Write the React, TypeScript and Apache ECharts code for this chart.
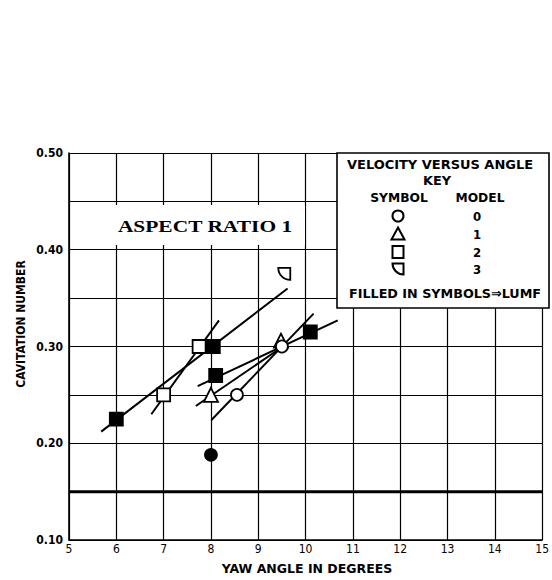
import React, { useEffect, useRef } from "react";
import * as echarts from "echarts";

// ---- data ----
const xTicks = [5, 6, 7, 8, 9, 10, 11, 12, 13, 14, 15];
const yTickLabels = ["0.10", "0.20", "0.30", "0.40", "0.50"];

// open symbols = plain models, filled symbols = LUMF
const model0Open: number[][] = [[8.55, 0.25], [9.5, 0.30]];
const model0Filled: number[][] = [[8.0, 0.188]];
const model1Open: number[][] = [[8.0, 0.25], [9.48, 0.306]];
const model2Open: number[][] = [[7.0, 0.25], [7.75, 0.30]];
const model2Filled: number[][] = [[6.0, 0.225], [8.05, 0.30], [8.1, 0.27], [10.1, 0.315]];
const model3Open: number[][] = [[9.55, 0.375]];

// fitted lines (end points)
const fitLineA: number[][] = [[5.68, 0.212], [9.62, 0.36]];
const fitLineB: number[][] = [[6.74, 0.23], [8.17, 0.327]];
const fitLineC: number[][] = [[7.72, 0.259], [10.68, 0.327]];
const fitLineD: number[][] = [[7.68, 0.2385], [9.52, 0.30]];
const fitLineE: number[][] = [[8.01, 0.224], [10.17, 0.334]];
const referenceLevel = 0.15;

const legendModels = ["0", "1", "2", "3"];

const COND = "'DejaVu Sans Condensed', 'Liberation Sans Narrow', 'DejaVu Sans', sans-serif";
const D_PATH = "path://M0,0 L10,0 L10,10 A10,10 0 0 1 0,0 Z";

export default function App() {
  const ref = useRef<HTMLDivElement>(null);
  useEffect(() => {
    if (!ref.current) return;
    const chart = echarts.init(ref.current, undefined, { renderer: "svg" });

    const lineSeries = (data: number[][], width = 2) => ({
      type: "line",
      data,
      symbol: "none",
      silent: true,
      z: 2,
      lineStyle: { color: "#000", width },
    });
    const scatter = (data: number[][], symbol: string, size: number, filled: boolean) => ({
      type: "scatter",
      data,
      symbol,
      symbolSize: size,
      z: 3,
      itemStyle: {
        color: filled ? "#000" : "#fff",
        borderColor: "#000",
        borderWidth: 1.8,
        opacity: 1,
      },
    });

    const txt = (t: string, x: number, y: number, size: number, sx: number, z = 52) => ({
      type: "text",
      z,
      x,
      y,
      scaleX: sx,
      style: {
        text: t,
        fill: "#000",
        font: `bold ${size}px ${COND}`,
        textAlign: "center",
        textVerticalAlign: "middle",
      },
    });

    const lx = 398; // legend symbol x
    const rowsY = [216, 234, 252, 269];

    chart.setOption({
      animation: false,
      backgroundColor: "#fff",
      grid: { left: 69, right: 1, top: 153, bottom: 40 },
      xAxis: {
        type: "value",
        min: xTicks[0],
        max: xTicks[xTicks.length - 1],
        interval: 1,
        axisLine: { show: true, lineStyle: { color: "#000", width: 1.6 } },
        axisTick: { show: false },
        splitLine: { show: true, lineStyle: { color: "#000", width: 1.2 } },
        axisLabel: {
          color: "#000",
          fontFamily: COND,
          fontSize: 12,
          margin: 3,
          showMaxLabel: true,
          formatter: (v: number) => String(Math.round(v)),
        },
      },
      yAxis: {
        type: "value",
        min: 0.1,
        max: 0.5,
        interval: 0.05,
        axisLine: { show: true, lineStyle: { color: "#000", width: 1.6 } },
        axisTick: { show: false },
        splitLine: { show: true, lineStyle: { color: "#000", width: 1.2 } },
        axisLabel: {
          color: "#000",
          fontFamily: COND,
          fontWeight: "bold",
          fontSize: 12,
          margin: 6,
          formatter: (v: number) => {
            const s = v.toFixed(2);
            return yTickLabels.includes(s) ? s : "";
          },
        },
      },
      series: [
        lineSeries([[xTicks[0], referenceLevel], [xTicks[xTicks.length - 1], referenceLevel]], 3),
        lineSeries(fitLineA),
        lineSeries(fitLineB),
        lineSeries(fitLineC),
        lineSeries(fitLineD),
        lineSeries(fitLineE),
        scatter(model1Open, "triangle", 14, false),
        scatter(model0Open, "circle", 12, false),
        scatter(model0Filled, "circle", 12, true),
        scatter(model2Open, "rect", 13, false),
        scatter(model2Filled, "rect", 13, true),
        scatter(model3Open, D_PATH, 12, false),
      ],
      graphic: [
        // blank band behind the "ASPECT RATIO 1" label
        {
          type: "rect",
          z: 50,
          shape: { x: 71, y: 205, width: 234, height: 40 },
          style: { fill: "#fff" },
        },
        {
          type: "text",
          z: 51,
          x: 205,
          y: 227,
          scaleX: 1.34,
          style: {
            text: "ASPECT RATIO 1",
            fill: "#000",
            font: "bold 16px 'Liberation Serif', 'DejaVu Serif', serif",
            textAlign: "center",
            textVerticalAlign: "middle",
          },
        },
        // key box
        {
          type: "rect",
          z: 50,
          shape: { x: 337, y: 153, width: 212, height: 155 },
          style: { fill: "#fff", stroke: "#000", lineWidth: 1.6 },
        },
        txt("VELOCITY VERSUS ANGLE", 440, 164, 13, 1.11),
        txt("KEY", 437, 180, 13, 1.1),
        txt("SYMBOL", 399, 198, 13, 1.05),
        txt("MODEL", 480, 198, 13, 1.05),
        txt("FILLED IN SYMBOLS⇒LUMF", 445, 293, 13, 1.09),
        ...legendModels.map((m, i) => txt(m, 477, rowsY[i], 13, 1)),
        {
          type: "circle",
          z: 52,
          shape: { cx: lx, cy: rowsY[0], r: 5.5 },
          style: { fill: "#fff", stroke: "#000", lineWidth: 2 },
        },
        {
          type: "polygon",
          z: 52,
          shape: { points: [[lx, rowsY[1] - 6.5], [lx + 6.5, rowsY[1] + 5.5], [lx - 6.5, rowsY[1] + 5.5]] },
          style: { fill: "#fff", stroke: "#000", lineWidth: 2 },
        },
        {
          type: "rect",
          z: 52,
          shape: { x: lx - 5.5, y: rowsY[2] - 6, width: 11, height: 12 },
          style: { fill: "#fff", stroke: "#000", lineWidth: 2 },
        },
        {
          type: "sector",
          z: 52,
          shape: { cx: lx + 5.5, cy: rowsY[3] - 5.5, r: 11, r0: 0, startAngle: Math.PI / 2, endAngle: Math.PI, clockwise: true },
          style: { fill: "#fff", stroke: "#000", lineWidth: 2 },
        },
        // axis titles
        txt("YAW ANGLE IN DEGREES", 307, 569, 13, 1.07),
        {
          type: "text",
          z: 52,
          x: 21,
          y: 324,
          rotation: Math.PI / 2,
          style: {
            text: "CAVITATION NUMBER",
            fill: "#000",
            font: `bold 12px ${COND}`,
            textAlign: "center",
            textVerticalAlign: "middle",
          },
        },
      ],
    });
    return () => chart.dispose();
  }, []);

  return (
    <div
      ref={ref}
      style={{ position: "fixed", left: 0, top: 0, width: 552, height: 580, background: "#fff" }}
    />
  );
}
